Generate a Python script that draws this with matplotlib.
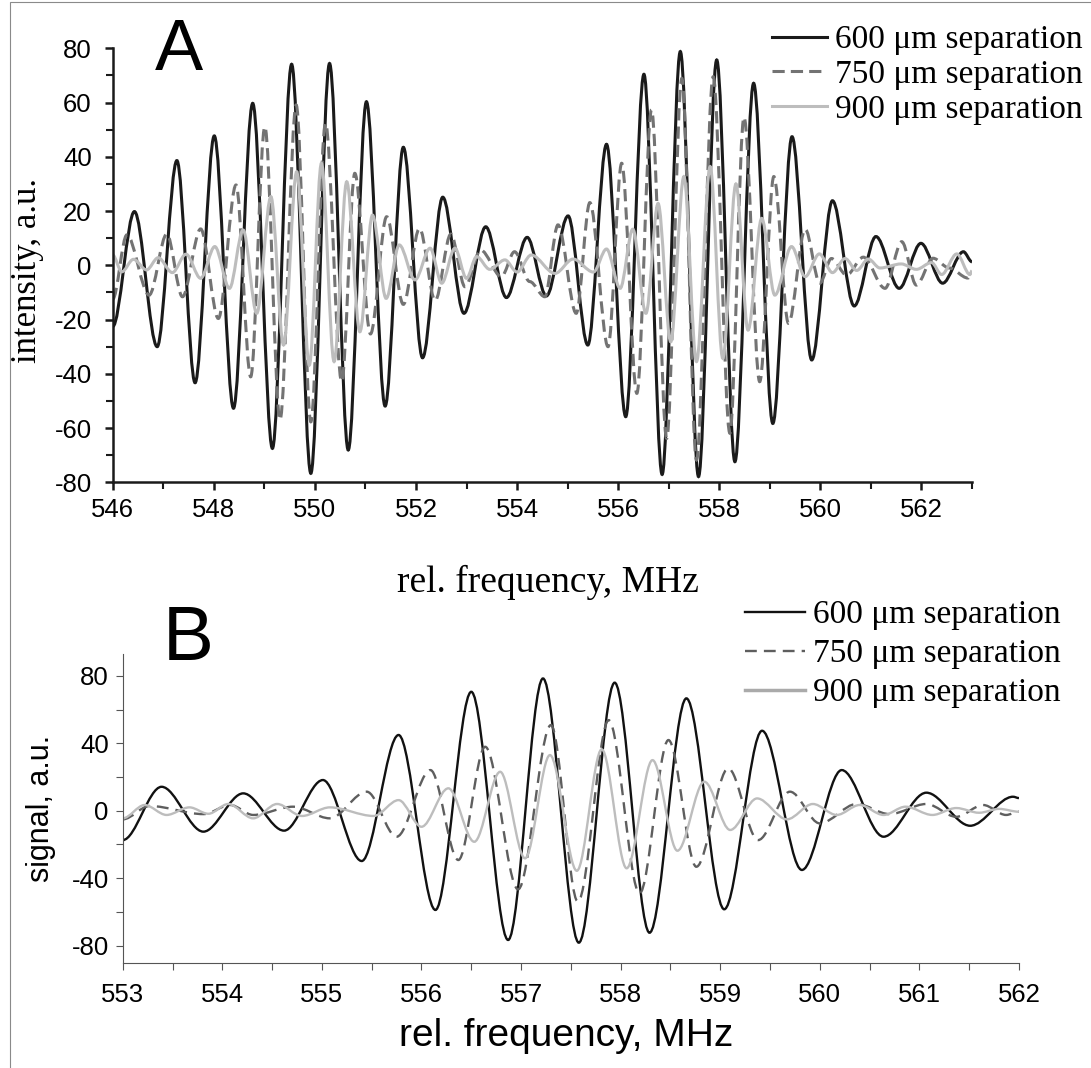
import matplotlib
matplotlib.use("Agg")
import matplotlib.pyplot as plt
from matplotlib.path import Path
from matplotlib.patches import PathPatch, Rectangle
from matplotlib.lines import Line2D

plt.rcParams["axes.unicode_minus"] = False

# ---- data: turning points (peaks / troughs) of each trace ----
# panel A, 600 um
a600_f = [546.0, 546.43, 546.88, 547.27, 547.63, 548.01, 548.39, 548.77, 549.16, 549.54,
          549.92, 550.29, 550.66, 551.02, 551.39, 551.75, 552.13, 552.53, 552.95, 553.38,
          553.79, 554.20, 554.58, 555.01, 555.40, 555.77, 556.15, 556.51, 556.87, 557.23,
          557.59, 557.95, 558.31, 558.68, 559.06, 559.44, 559.83, 560.24, 560.67, 561.10,
          561.56, 561.99, 562.42, 562.83, 563.0]
a600_v = [-22.6, 19.8, -30.0, 38.6, -43.3, 47.7, -52.7, 59.7, -67.5, 74.1,
          -76.7, 74.4, -68.1, 60.3, -51.9, 43.5, -34.1, 25.1, -17.7, 14.2,
          -11.9, 10.3, -11.3, 18.2, -29.4, 44.6, -55.8, 70.4, -77.1, 78.8,
          -77.9, 75.7, -72.4, 67.1, -58.3, 47.4, -34.9, 23.8, -15.0, 10.6,
          -8.5, 8.1, -6.6, 5.0, 1.3]

# panel A, 750 um
a750_f = [546.0, 546.28, 546.72, 547.07, 547.38, 547.74, 548.09, 548.44, 548.73, 549.01,
          549.31, 549.63, 549.92, 550.21, 550.53, 550.79, 551.10, 551.42, 551.75, 552.07,
          552.38, 552.69, 552.97, 553.28, 553.69, 553.95, 554.25, 554.55, 554.81, 555.17,
          555.44, 555.80, 556.07, 556.37, 556.66, 556.96, 557.26, 557.55, 557.88, 558.21,
          558.49, 558.80, 559.08, 559.37, 559.70, 559.99, 560.22, 560.52, 560.85, 561.28,
          561.61, 561.90, 562.23, 562.55, 562.92, 563.0]
a750_v = [-12.5, 11.2, -11.0, 11.5, -11.6, 13.4, -19.6, 29.6, -41.1, 51.1,
          -57.0, 59.1, -57.7, 52.3, -42.9, 33.9, -25.3, 17.9, -14.4, 13.6,
          -13.0, 11.5, -7.9, 5.6, -4.2, 5.0, -6.0, -11.6, 14.9, -17.7,
          23.1, -30.0, 37.6, -47.2, 57.3, -63.8, 68.9, -71.8, 69.5, -61.9,
          54.6, -42.9, 32.7, -21.4, 13.3, -6.6, 2.5, -3.6, 3.0, -8.5,
          8.7, -7.3, 2.6, -1.0, -4.7, -3.0]

# panel A, 900 um
a900_f = [546.0, 546.18, 546.41, 546.67, 546.90, 547.18, 547.45, 547.74, 548.02, 548.31,
          548.58, 548.85, 549.13, 549.38, 549.64, 549.89, 550.13, 550.38, 550.63, 550.89,
          551.14, 551.41, 551.67, 551.98, 552.28, 552.51, 552.77, 553.0, 553.2, 553.46,
          553.76, 554.0, 554.28, 554.75, 555.11, 555.51, 555.77, 556.04, 556.29, 556.55,
          556.79, 557.04, 557.30, 557.55, 557.82, 558.07, 558.33, 558.57, 558.84, 559.10,
          559.43, 559.70, 559.98, 560.24, 560.49, 560.72, 560.95, 561.18, 561.6, 561.9,
          562.2, 562.4, 562.7, 562.96, 563.0]
a900_v = [3.8, -2.4, 2.2, -1.7, 2.8, -2.7, 4.1, -4.8, 6.9, -8.5,
          13.0, -17.7, 25.3, -29.4, 34.5, -36.8, 37.6, -35.5, 30.8, -24.5,
          18.5, -12.2, 7.5, -5.4, 6.3, -6.6, 6.3, -4.8, 3.2, -1.5,
          2.0, -2.5, 3.8, -3.0, 2.3, -2.5, 6.0, -8.5, 13.3, -17.7,
          22.8, -28.2, 32.7, -35.5, 36.4, -34.3, 30.0, -23.9, 17.3, -11.0,
          6.9, -4.2, 4.2, -2.7, 2.5, -1.9, 2.3, -1.0, 0.5, -1.5,
          1.0, -3.4, 4.2, -3.4, -2.0]

# panel B, 600 um
b600_f = [553.0, 553.39, 553.81, 554.21, 554.62, 555.01, 555.40, 555.77, 556.14, 556.50,
          556.87, 557.22, 557.58, 557.94, 558.29, 558.66, 559.04, 559.42, 559.82, 560.22,
          560.64, 561.07, 561.51, 561.94, 562.0]
b600_v = [-17.4, 14.2, -12.4, 10.3, -11.8, 18.2, -29.8, 44.9, -58.8, 70.5,
          -76.6, 78.4, -78.2, 75.9, -72.3, 66.6, -58.4, 47.4, -35.1, 24.1,
          -15.4, 10.7, -8.9, 8.3, 7.5]

# panel B, 750 um
b750_f = [553.0, 553.27, 553.81, 554.08, 554.31, 554.71, 555.08, 555.45, 555.75, 556.09,
          556.37, 556.64, 556.97, 557.30, 557.57, 557.88, 558.19, 558.48, 558.76, 559.08,
          559.38, 559.70, 560.0, 560.37, 560.70, 561.07, 561.37, 561.64, 561.87, 562.0]
b750_v = [-5.1, 2.8, -2.0, 3.4, -2.5, 2.4, -4.5, 11.3, -15.4, 24.1,
          -29.2, 37.9, -46.6, 50.8, -53.9, 53.7, -49.0, 41.9, -33.2, 25.1,
          -17.4, 11.3, -7.5, 4.0, -2.0, 4.0, -3.6, 3.4, -2.5, -0.6]

# panel B, 900 um
b900_f = [553.0, 553.22, 553.44, 553.67, 553.86, 554.06, 554.31, 554.55, 554.80, 555.08,
          555.52, 555.77, 556.0, 556.27, 556.53, 556.79, 557.04, 557.29, 557.56, 557.81,
          558.06, 558.32, 558.57, 558.84, 559.10, 559.37, 559.67, 559.93, 560.17, 560.40,
          560.64, 560.86, 561.13, 561.37, 561.60, 561.80, 562.0]
b900_v = [-4.5, 3.4, -2.5, 2.0, -1.8, 4.0, -4.5, 4.0, -3.1, 2.0,
          -3.1, 6.3, -9.5, 13.3, -18.4, 23.1, -28.2, 33.0, -35.6, 36.4,
          -34.1, 30.0, -23.7, 17.2, -11.4, 7.3, -5.1, 4.0, -2.5, 3.4,
          -2.5, 2.4, -2.5, 1.6, -1.2, 1.1, -0.6]

labels = ["600 \u03bcm separation", "750 \u03bcm separation", "900 \u03bcm separation"]


def smooth_path(xs, ys):
    # cubic Bezier segments between turning points, flat tangent at each point
    verts = [(xs[0], ys[0])]
    codes = [Path.MOVETO]
    for x0, y0, x1, y1 in zip(xs[:-1], ys[:-1], xs[1:], ys[1:]):
        d = (x1 - x0) / 3.0
        verts += [(x0 + d, y0), (x1 - d, y1), (x1, y1)]
        codes += [Path.CURVE4] * 3
    return Path(verts, codes)


def add_trace(ax, xs, ys, **kw):
    ax.add_patch(PathPatch(smooth_path(xs, ys), fill=False, capstyle="butt", **kw))


serif = ["Liberation Serif", "DejaVu Serif"]
sans = ["Liberation Sans", "DejaVu Sans"]

fig = plt.figure(figsize=(10.91, 10.68), dpi=100)

# thin frame around the figure
fig.patches.append(Rectangle((10 / 1091, -0.01), 1.0, 1.0 - 2 / 1068 + 0.01,
                             transform=fig.transFigure, fill=False,
                             edgecolor="#8a8a8a", linewidth=0.8))

# ---------------- panel A ----------------
axA = fig.add_axes([0.1033, 0.5484, 0.7876, 0.4064])
add_trace(axA, a600_f, a600_v, edgecolor="#1a1a1a", linewidth=2.2)
add_trace(axA, a750_f, a750_v, edgecolor="#737373", linewidth=2.2, linestyle=(0, (4, 2)))
add_trace(axA, a900_f, a900_v, edgecolor="#bdbdbd", linewidth=2.2)
axA.set_xlim(546, 563)
axA.set_ylim(-80, 80)
axA.set_xticks(range(546, 563, 2))
axA.set_xticks(range(546, 564), minor=True)
axA.set_yticks(range(-80, 81, 20))
axA.set_yticks(range(-80, 81, 10), minor=True)
for s in ["top", "right"]:
    axA.spines[s].set_visible(False)
for s in ["left", "bottom"]:
    axA.spines[s].set_linewidth(1.8)
    axA.spines[s].set_color("#1a1a1a")
axA.tick_params(which="major", direction="out", length=6, width=1.8, color="#1a1a1a")
axA.tick_params(which="minor", direction="out", length=5, width=1.5, color="#1a1a1a")
axA.tick_params(axis="x", which="major", pad=5)
axA.tick_params(axis="y", which="major", pad=9)
for t in axA.get_xticklabels() + axA.get_yticklabels():
    t.set_family(sans)
    t.set_fontsize(18.5)
axA.set_xlabel("rel. frequency, MHz", family=serif, fontsize=27)
axA.xaxis.set_label_coords(0.5066, -0.19)
axA.set_ylabel("intensity, a.u.", family=serif, fontsize=25)
axA.yaxis.set_label_coords(-0.08, 0.489)

hA = [Line2D([], [], color="#1a1a1a", lw=2.2),
      Line2D([], [], color="#737373", lw=2.2, linestyle=(0, (4, 2))),
      Line2D([], [], color="#bdbdbd", lw=2.2)]
fig.legend(hA, labels, loc="upper left", bbox_to_anchor=(755 / 1091, 1 - 8 / 1068),
           frameon=False, borderpad=0, handlelength=1.65, handletextpad=0.25,
           labelspacing=0.13, prop={"family": serif, "size": 24})
fig.text(155 / 1091, 1 - 70 / 1068, "A", family=sans, fontsize=52, va="baseline")

# ---------------- panel B ----------------
axB = fig.add_axes([0.1125, 0.0987, 0.8215, 0.2891])
add_trace(axB, b600_f, b600_v, edgecolor="#111111", linewidth=1.7)
add_trace(axB, b750_f, b750_v, edgecolor="#5e5e5e", linewidth=1.7, linestyle=(0, (5, 3)))
add_trace(axB, b900_f, b900_v, edgecolor="#bdbdbd", linewidth=1.7)
axB.set_xlim(553, 562)
axB.set_ylim(-90, 93)
axB.set_xticks(range(553, 563))
axB.set_xticks([553.5 + i for i in range(9)], minor=True)
axB.set_yticks(range(-80, 81, 40))
axB.set_yticks(range(-80, 81, 20), minor=True)
for s in ["top", "right"]:
    axB.spines[s].set_visible(False)
for s in ["left", "bottom"]:
    axB.spines[s].set_linewidth(0.8)
    axB.spines[s].set_color("#555555")
axB.tick_params(which="both", direction="out", length=5, width=0.8, color="#555555")
axB.tick_params(axis="x", which="major", pad=10)
axB.tick_params(axis="y", which="major", pad=5)
for t in axB.get_xticklabels() + axB.get_yticklabels():
    t.set_family(sans)
    t.set_fontsize(18.5)
axB.set_xlabel("rel. frequency, MHz", family=sans, fontsize=28)
axB.xaxis.set_label_coords(0.4946, -0.18)
axB.set_ylabel("signal, a.u.", family=sans, fontsize=22)
axB.yaxis.set_label_coords(-0.075, 0.50)

hB = [Line2D([], [], color="#111111", lw=1.7),
      Line2D([], [], color="#5e5e5e", lw=1.7, linestyle=(0, (5, 3))),
      Line2D([], [], color="#aaaaaa", lw=2.5)]
fig.legend(hB, labels, loc="upper left", bbox_to_anchor=(728 / 1091, 1 - 583 / 1068),
           frameon=False, borderpad=0, handlelength=1.8, handletextpad=0.25,
           labelspacing=0.26, prop={"family": serif, "size": 24})
fig.text(163 / 1091, 1 - 660 / 1068, "B", family=sans, fontsize=55, va="baseline")

fig.savefig("out.png", dpi=100)
